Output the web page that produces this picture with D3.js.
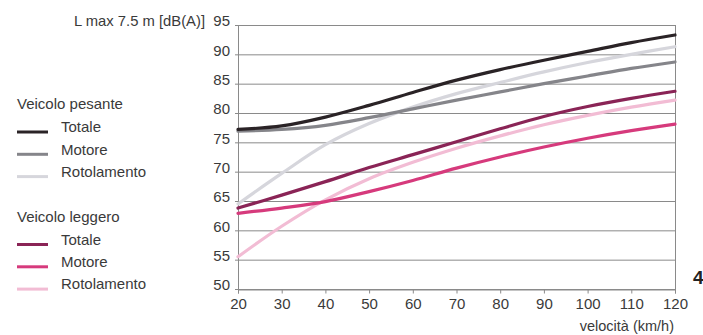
<!DOCTYPE html>
<html><head><meta charset="utf-8">
<script src="https://cdn.jsdelivr.net/npm/d3@7"></script>
<style>
body{margin:0;background:#fff;}
svg{display:block;font-family:"Liberation Sans",Arial,sans-serif;}
</style></head>
<body><svg id="c" width="703" height="335"></svg>
<script>
const speeds = [20,30,40,50,60,70,80,90,100,110,120];
const pesanteTotale   = [77.2,77.8,79.3,81.3,83.5,85.6,87.4,89.0,90.5,92.0,93.3];
const pesanteMotore   = [76.9,77.2,77.9,79.2,80.7,82.2,83.6,85.0,86.3,87.6,88.7];
const pesanteRotol    = [64.5,69.7,74.6,78.2,81.0,83.3,85.2,87.0,88.6,90.0,91.3];
const leggeroTotale   = [63.8,66.0,68.3,70.7,72.9,75.1,77.3,79.4,81.1,82.5,83.7];
const leggeroMotore   = [62.9,63.8,64.9,66.6,68.5,70.6,72.5,74.2,75.7,77.0,78.1];
const leggeroRotol    = [55.5,60.7,65.2,68.8,71.6,74.0,76.1,78.0,79.6,81.0,82.2];
const yTicks = [50,55,60,65,70,75,80,85,90,95];
const xTicks = [20,30,40,50,60,70,80,90,100,110,120];
const yTitle = "L max 7.5 m [dB(A)]";
const xTitle = "velocità (km/h)";
const groups = [
  {title:"Veicolo pesante", items:[
    {label:"Totale", values:pesanteTotale, color:"#2a2326"},
    {label:"Motore", values:pesanteMotore, color:"#85858a"},
    {label:"Rotolamento", values:pesanteRotol, color:"#d6d6dc"}]},
  {title:"Veicolo leggero", items:[
    {label:"Totale", values:leggeroTotale, color:"#8a2456"},
    {label:"Motore", values:leggeroMotore, color:"#d63a7c"},
    {label:"Rotolamento", values:leggeroRotol, color:"#f2bcd4"}]}
];

const svg = d3.select("#c");
const x = d3.scaleLinear().domain([20,120]).range([238,675]);
const y = d3.scaleLinear().domain([50,95]).range([289,25]);
const textColor = "#3a3a3a";
const gridColor = "#8a8a8a";

svg.append("g").selectAll("line").data(yTicks).join("line")
  .attr("x1",235).attr("x2",x(120))
  .attr("y1",d=>y(d)+0.5).attr("y2",d=>y(d)+0.5)
  .attr("stroke",gridColor).attr("stroke-width",1);
svg.append("g").selectAll("text").data(yTicks).join("text")
  .attr("x",230).attr("y",d=>y(d)-4).attr("dy","0.35em")
  .attr("text-anchor","end").attr("font-size",15).attr("fill",textColor)
  .text(d=>d);
svg.append("text").attr("x",205).attr("y",y(95)-4).attr("dy","0.35em")
  .attr("text-anchor","end").attr("font-size",14.8).attr("fill",textColor).text(yTitle);
[20,120].forEach(v=>{
  svg.append("line").attr("x1",x(v)+0.5).attr("x2",x(v)+0.5)
    .attr("y1",y(95)).attr("y2",y(50)+4).attr("stroke",gridColor).attr("stroke-width",1);
});
const xAxis = d3.axisBottom(x).tickValues(xTicks).tickSize(4).tickPadding(5);
const gx = svg.append("g").attr("transform",`translate(0,${y(50)+0.5})`).call(xAxis);
gx.select(".domain").attr("stroke",gridColor);
gx.selectAll(".tick line").attr("stroke",gridColor);
gx.selectAll(".tick text").attr("font-size",15).attr("fill",textColor)
  .attr("font-family","'Liberation Sans',Arial,sans-serif");
svg.append("text").attr("x",674).attr("y",327).attr("dy","0.3em")
  .attr("text-anchor","end").attr("font-size",14.5).attr("fill",textColor).text(xTitle);

const line = d3.line().x((d,i)=>x(speeds[i])).y(d=>y(d)).curve(d3.curveCatmullRom.alpha(0.5));
const order = [groups[0].items[2],groups[1].items[2],groups[0].items[1],groups[1].items[1],groups[0].items[0],groups[1].items[0]];
svg.append("g").selectAll("path").data(order).join("path")
  .attr("d",d=>line(d.values)).attr("fill","none")
  .attr("stroke",d=>d.color).attr("stroke-width",3.2).attr("stroke-linecap","round");

const legendTop = [104, 216.5];
groups.forEach((g,gi)=>{
  const lg = svg.append("g");
  lg.append("text").attr("x",17).attr("y",legendTop[gi]).attr("dy","0.35em")
    .attr("font-size",15).attr("fill",textColor).text(g.title);
  g.items.forEach((it,ii)=>{
    const cy = legendTop[gi] + 23 + ii*22.3;
    lg.append("line").attr("x1",17).attr("x2",48).attr("y1",cy+5).attr("y2",cy+5)
      .attr("stroke",it.color).attr("stroke-width",3);
    lg.append("text").attr("x",61).attr("y",cy).attr("dy","0.35em")
      .attr("font-size",15).attr("fill",textColor).text(it.label);
  });
});
svg.append("text").attr("x",693).attr("y",277).attr("dy","0.35em")
  .attr("font-size",19).attr("font-weight","bold").attr("fill","#222").text("4");
</script></body></html>
